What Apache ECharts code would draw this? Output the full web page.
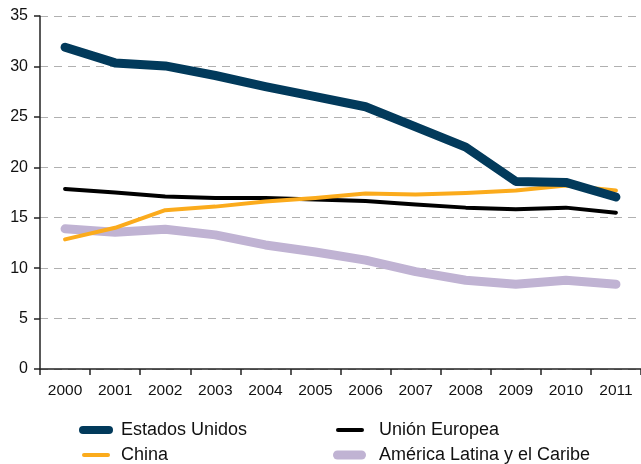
<!DOCTYPE html>
<html>
<head>
<meta charset="utf-8">
<script src="https://cdn.jsdelivr.net/npm/echarts@6/dist/echarts.min.js"></script>
<style>
  html, body { margin: 0; padding: 0; background: #fff; }
  #chart { width: 641px; height: 464px; }
</style>
</head>
<body>
<div id="chart"></div>
<script>
// años
const years = ["2000", "2001", "2002", "2003", "2004", "2005", "2006", "2007", "2008", "2009", "2010", "2011"];
// valores
const estadosUnidos = [31.9, 30.35, 30.05, 29.1, 28.0, 27.0, 26.0, 24.0, 22.0, 18.6, 18.5, 17.05];
const china = [12.85, 14.0, 15.75, 16.1, 16.6, 16.95, 17.4, 17.3, 17.45, 17.7, 18.2, 17.7];
const unionEuropea = [17.85, 17.5, 17.1, 16.95, 16.95, 16.8, 16.65, 16.3, 16.0, 15.85, 16.0, 15.5];
const americaLatina = [13.9, 13.55, 13.85, 13.3, 12.3, 11.6, 10.8, 9.65, 8.8, 8.4, 8.8, 8.4];
const yTicks = { min: 0, max: 35, interval: 5 };

const font = "Liberation Sans, Arial, sans-serif";

// pill shaped legend icon
function pill(w, h) {
  const r = h / 2;
  return "path://M" + r + ",0 L" + (w - r) + ",0 A" + r + "," + r + " 0 0 1 " + (w - r) + "," + h +
    " L" + r + "," + h + " A" + r + "," + r + " 0 0 1 " + r + ",0 Z";
}

function legendItem(name, left, top, w, h, pad) {
  return {
    data: [name],
    left: left,
    top: top,
    itemWidth: w,
    itemHeight: h,
    icon: pill(w, h),
    padding: 0,
    selectedMode: false,
    textStyle: { fontFamily: font, fontSize: 18, color: "#111", padding: [0, 0, 0, pad] }
  };
}

const chart = echarts.init(document.getElementById("chart"));
chart.setOption({
  animation: false,
  grid: { left: 40, top: 16, width: 605, height: 353 },
  legend: [
    legendItem("Estados Unidos", 79, 421, 34, 8, 3),
    legendItem("China", 82, 446, 28, 4, 6),
    legendItem("Unión Europea", 336, 421, 28, 4, 10),
    legendItem("América Latina y el Caribe", 333, 446, 33, 9, 8)
  ],
  xAxis: {
    type: "category",
    data: years,
    boundaryGap: true,
    axisLine: { lineStyle: { color: "#222", width: 1.5 } },
    axisTick: { show: true, length: 6, lineStyle: { color: "#222", width: 1.5 } },
    axisLabel: { fontFamily: font, fontSize: 15.5, color: "#111", margin: 14 },
    splitLine: { show: false }
  },
  yAxis: {
    type: "value",
    min: yTicks.min,
    max: yTicks.max,
    interval: yTicks.interval,
    axisLine: { show: true, lineStyle: { color: "#222", width: 1.5 } },
    axisTick: { show: true, length: 6, lineStyle: { color: "#222", width: 1.5 } },
    axisLabel: { fontFamily: font, fontSize: 16, color: "#111", margin: 12 },
    splitLine: { show: true, lineStyle: { color: "#b0b0b0", type: [8, 6], width: 1 } }
  },
  series: [
    {
      name: "América Latina y el Caribe",
      type: "line",
      data: americaLatina,
      showSymbol: false,
      color: "#c0b3d3",
      lineStyle: { width: 9, cap: "round", join: "round" },
      z: 1
    },
    {
      name: "Unión Europea",
      type: "line",
      data: unionEuropea,
      showSymbol: false,
      color: "#000000",
      lineStyle: { width: 4, cap: "round", join: "round" },
      z: 2
    },
    {
      name: "China",
      type: "line",
      data: china,
      showSymbol: false,
      color: "#fbab1c",
      lineStyle: { width: 4, cap: "round", join: "round" },
      z: 3
    },
    {
      name: "Estados Unidos",
      type: "line",
      data: estadosUnidos,
      showSymbol: false,
      color: "#023a5b",
      lineStyle: { width: 9, cap: "round", join: "round" },
      z: 4
    }
  ]
});
</script>
</body>
</html>
